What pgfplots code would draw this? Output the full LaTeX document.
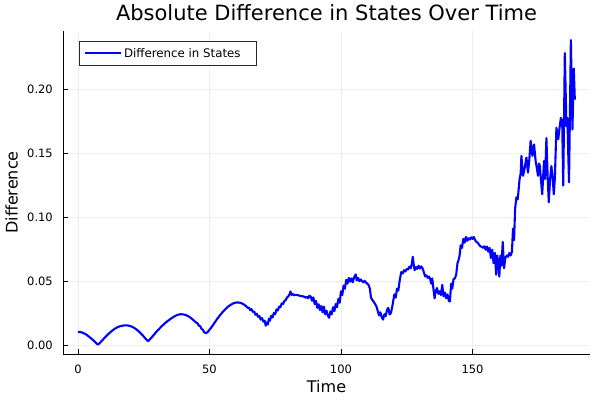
\documentclass[border=0pt]{standalone}
\usepackage{pgfplots}
\pgfplotsset{compat=1.18}
\usepackage{fontspec}
\setmainfont{DejaVu Sans}
\definecolor{legframe}{RGB}{40,40,40}
\begin{document}
\begin{tikzpicture}[x=1pt,y=1pt]
\useasboundingbox (-63,-46) rectangle (537,354);
\begin{axis}[
  at={(0,0)}, anchor=south west,
  scale only axis, width=527pt, height=323pt,
  xmin=-5.67, xmax=194.67, ymin=-0.00714, ymax=0.2458,
  axis lines=left, axis line style={-, black, line width=0.9pt},
  xtick={0,50,100,150}, ytick={0,0.05,0.1,0.15,0.2},
  xticklabels={0,50,100,150}, yticklabels={0.00,0.05,0.10,0.15,0.20},
  scaled y ticks=false,
  /pgf/number format/assume math mode=true,
  tick label style={font=\fontsize{11.5}{13}\selectfont},
  yticklabel style={inner sep=0pt, xshift=-10pt},
  xticklabel style={inner sep=0pt, yshift=-10.5pt},
  tick align=inside, major tick length=5pt,
  tick style={black, line width=0.7pt},
  grid=major, major grid style={black!7, line width=0.7pt},
  title={Absolute Difference in States Over Time},
  title style={at={(axis description cs:0.5,1)}, anchor=base, yshift=5pt, font=\fontsize{21}{25}\selectfont},
  xlabel={Time},
  xlabel style={at={(axis description cs:0.5,-0.1207)}, anchor=base, font=\fontsize{16}{19}\selectfont},
  ylabel={Difference},
  ylabel style={at={(axis description cs:-0.0863,0.5)}, anchor=base, font=\fontsize{16}{19}\selectfont},
  legend style={at={(axis description cs:0.031,0.97)}, anchor=north west, draw=legframe, line width=0.9pt, font=\fontsize{11.8}{13}\selectfont, inner xsep=4.5pt, inner ysep=5pt},
  legend image code/.code={\draw[blue, line width=1.8pt] (0pt,0pt) -- (36pt,0pt);},
]
\addplot[blue, line width=2.1pt, line join=round] coordinates {
(0,0.0102)(1,0.0100)(2,0.0094)(3,0.0083)(4,0.0068)(5,0.0051)(6,0.0033)(7,0.0013)(7.5,0.0003)
(8,0.0008)(9,0.0030)(10,0.0052)(11,0.0073)(12,0.0093)(13,0.0111)(14,0.0126)(15,0.0138)(16,0.0146)(17,0.0151)(18,0.0153)(19,0.0152)(20,0.0147)(21,0.0138)(22,0.0125)(23,0.0108)(24,0.0088)(25,0.0066)(26,0.0042)(26.6,0.0031)(27,0.0035)
(28,0.0058)(29,0.0082)(30,0.0106)(31,0.0128)(32,0.0149)(33,0.0168)(34,0.0185)(35,0.0200)(36,0.0215)(37,0.0227)(38,0.0236)(39,0.0240)(40,0.0239)(41,0.0234)(42,0.0224)(43,0.0210)(44,0.0192)(45,0.0174)(45.5,0.0168)(46,0.0150)(46.5,0.0146)(47,0.0125)(47.5,0.0118)(48,0.0100)(48.6,0.0091)(49,0.0096)(49.5,0.0104)
(50,0.0118)(51,0.0145)(52,0.0175)(53,0.0205)(54,0.0232)(55,0.0257)(56,0.0279)(57,0.0298)(58,0.0313)(59,0.0325)(60,0.0331)(61,0.0332)(62,0.0328)(63,0.0318)(64,0.0302)(64.5,0.0290)
(65,0.0292)(65.5,0.0272)(66,0.0280)(66.5,0.0258)(67,0.0262)(67.5,0.0236)(68,0.0244)(68.5,0.0220)(69,0.0226)(69.5,0.0198)(70,0.0210)(70.5,0.0182)(71,0.0190)(71.4,0.0150)(71.8,0.0175)(72.2,0.0160)(72.6,0.0205)(73,0.0190)(73.5,0.0228)(74,0.0215)(74.5,0.0250)(75,0.0240)(75.5,0.0278)(76,0.0270)(76.5,0.0300)(77,0.0296)(77.5,0.0325)(78,0.0320)(78.5,0.0345)(79,0.0350)(79.5,0.0372)(80,0.0380)(80.5,0.0398)(80.8,0.0418)(81.2,0.0392)(81.6,0.0400)(82,0.0390)(83,0.0392)(84,0.0387)(85,0.0382)(86,0.0378)(86.5,0.0370)(87,0.0376)(87.5,0.0365)(88,0.0385)(88.5,0.0378)(89,0.0345)(89.5,0.0372)(90,0.0320)(90.5,0.0345)(91,0.0290)(91.5,0.0318)(92,0.0272)(92.5,0.0305)(93,0.0255)(93.5,0.0300)(94,0.0240)(94.5,0.0268)(95,0.0230)(95.5,0.0212)(96,0.0262)(96.5,0.0240)(97,0.0295)(97.5,0.0265)(98,0.0320)(98.5,0.0295)(99,0.0360)(99.5,0.0330)
(100,0.0420)(100.5,0.0390)(101,0.0465)(101.5,0.0440)(102,0.0510)(102.5,0.0480)(103,0.0525)(103.5,0.0495)(104,0.0520)(104.5,0.0490)(105,0.0530)(105.6,0.0552)(106,0.0505)(106.5,0.0525)(107,0.0498)(107.5,0.0512)(108,0.0500)(108.5,0.0490)(109,0.0502)(109.5,0.0488)(110,0.0480)(110.5,0.0468)(111,0.0440)(111.4,0.0370)(112,0.0350)(112.5,0.0335)(113,0.0320)(113.5,0.0300)(114,0.0265)(114.5,0.0230)(115,0.0255)(115.5,0.0215)(116,0.0198)(116.5,0.0240)(117,0.0225)(117.5,0.0275)(118,0.0290)(118.5,0.0238)(119,0.0250)(119.5,0.0300)(120,0.0360)(120.3,0.0395)(120.8,0.0370)(121.3,0.0440)(121.8,0.0425)(122.3,0.0500)(122.9,0.0570)(123.5,0.0560)(124,0.0585)(124.5,0.0575)(125,0.0595)(125.5,0.0590)(126,0.0612)(126.5,0.0600)(127,0.0640)(127.3,0.0690)(127.7,0.0620)(128,0.0585)(128.5,0.0610)(129,0.0595)(129.5,0.0620)(130,0.0598)(130.5,0.0615)(131,0.0600)(131.5,0.0570)(132,0.0535)(132.5,0.0545)(133,0.0525)(133.5,0.0535)(134,0.0510)(134.3,0.0480)(134.7,0.0520)(135.2,0.0430)(135.6,0.0365)(136,0.0420)(136.5,0.0445)(137,0.0400)(137.5,0.0420)(138,0.0390)(138.5,0.0470)(139,0.0380)(139.5,0.0410)(140,0.0365)(140.5,0.0395)(141,0.0345)(141.4,0.0340)(141.9,0.0480)(142.3,0.0440)(142.8,0.0515)(143.3,0.0520)(143.8,0.0550)(144.3,0.0640)(144.7,0.0663)(145.1,0.0700)(145.5,0.0780)(146,0.0760)(146.5,0.0830)(147,0.0800)(147.5,0.0845)(148,0.0815)(148.5,0.0835)(149,0.0825)(149.5,0.0842)
(150,0.0830)(150.5,0.0845)(151,0.0820)(151.5,0.0806)(152,0.0800)(152.5,0.0785)(153,0.0772)(153.5,0.0768)(154,0.0760)(154.5,0.0772)(155,0.0745)(155.5,0.0770)(156,0.0730)(156.5,0.0760)(157,0.0680)(157.5,0.0745)(158,0.0640)(158.5,0.0720)(159,0.0550)(159.4,0.0700)(159.8,0.0640)(160.2,0.0535)(160.6,0.0700)(161,0.0620)(161.5,0.0806)(162,0.0600)(162.5,0.0680)(163,0.0700)(163.5,0.0690)(164,0.0720)(164.5,0.0700)(165,0.0730)(165.4,0.0910)(165.8,0.0820)(166.2,0.1065)(166.7,0.1156)(167.2,0.1140)(167.9,0.1298)(168.3,0.1340)(168.6,0.1480)(169.2,0.1324)(169.8,0.1380)(170.5,0.1467)(171.1,0.1350)(171.6,0.1450)(172.1,0.1597)(172.8,0.1480)(173.4,0.1570)(174,0.1440)(174.5,0.1380)(174.9,0.1324)(175.3,0.1420)(175.6,0.1400)(176,0.1300)(176.5,0.1180)(177.2,0.1440)(177.6,0.1300)(178.1,0.1620)(178.6,0.1300)(179,0.1117)(179.5,0.1300)(180,0.1400)(180.5,0.1300)(180.9,0.1180)(181.3,0.1300)(181.9,0.1700)(182.3,0.1650)(182.6,0.1610)(183.1,0.1700)(183.6,0.1778)(184.1,0.1750)(184.5,0.1247)(185.1,0.2285)(185.7,0.1713)(186.1,0.1778)(186.4,0.1500)(186.7,0.1273)(187.4,0.2387)(188,0.1687)(188.5,0.2164)(188.9,0.1920)
};
\addlegendentry{Difference in States\kern9pt}
\end{axis}
\end{tikzpicture}
\end{document}
